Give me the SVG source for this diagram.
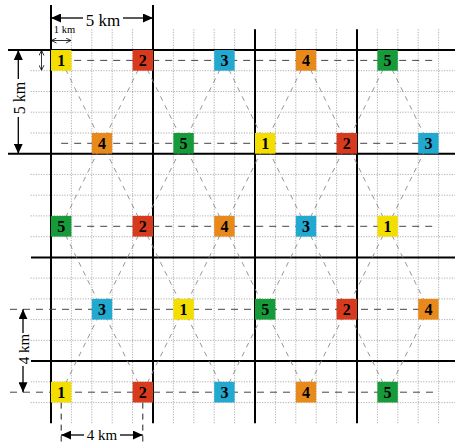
<svg xmlns="http://www.w3.org/2000/svg" width="455" height="445" viewBox="0 0 455 445">
<style>
.bg{fill:#ffffff}
.dot{stroke:#9a9a9a;stroke-width:0.8;stroke-dasharray:1.2,1.4;fill:none}
.thick{stroke:#000;stroke-width:2;fill:none}
.row{stroke:#444;stroke-width:1;stroke-dasharray:7,6;fill:none}
.diag{stroke:#8a8a8a;stroke-width:0.9;stroke-dasharray:5,5;fill:none}
.ext{stroke:#222;stroke-width:1;stroke-dasharray:6,5;fill:none}
.dim{stroke:#000;stroke-width:1.3;fill:none}
.dimsm{stroke:#000;stroke-width:0.8;fill:none}
.n rect{stroke:none}
.n text{font-family:"Liberation Serif","Times New Roman",serif;font-weight:bold;font-size:16px;fill:#000;text-anchor:middle}
.lbl{font-family:"Liberation Serif","Times New Roman",serif;fill:#000;text-anchor:middle}
.y{fill:#f4de00}.r{fill:#d83a1e}.c{fill:#22a9d0}.o{fill:#e8891b}.g{fill:#169a3a}
</style>
<defs>
<marker id="ah" viewBox="0 0 10 9" refX="10" refY="4.5" markerWidth="10" markerHeight="9" markerUnits="userSpaceOnUse" orient="auto">
<path d="M0,0 L10,4.5 L0,9 z" fill="#000"/>
</marker>
<marker id="sm" viewBox="0 0 6 6" refX="5.5" refY="3" markerWidth="6" markerHeight="6" markerUnits="userSpaceOnUse" orient="auto-start-reverse">
<path d="M0.5,0.5 L5.5,3 L0.5,5.5" fill="none" stroke="#000" stroke-width="0.8"/>
</marker>
</defs>
<rect class="bg" x="0" y="0" width="455" height="445"/>
<g id="grid">
<path class="dot" d="M71.4,29.3V423.3M91.8,29.3V423.3M112.2,29.3V423.3M132.6,29.3V423.3M173.4,29.3V423.3M193.8,29.3V423.3M214.2,29.3V423.3M234.6,29.3V423.3M275.4,29.3V423.3M295.8,29.3V423.3M316.2,29.3V423.3M336.6,29.3V423.3M377.4,29.3V423.3M397.8,29.3V423.3M418.2,29.3V423.3M438.6,29.3V423.3"/>
<path class="dot" d="M30.6,70.7H455M30.6,91.5H455M30.6,112.2H455M30.6,133H455M30.6,174.4H455M30.6,195.2H455M30.6,215.9H455M30.6,236.7H455M30.6,278.1H455M30.6,298.9H455M30.6,319.6H455M30.6,340.4H455M30.6,381.8H455M30.6,402.6H455"/>
<path class="thick" d="M51,5V423.3M153,5V423.3M255,29.3V423.3M357,29.3V423.3M8,50H455M8,153.7H455M31,257.4H455M31,361.1H455"/>
</g>
<g id="connectors">
<g class="row">
<path d="M61.2,60.4H438"/>
<path d="M61.2,143.3H438"/>
<path d="M61.2,226.3H438"/>
<path d="M10,309.3H438"/>
<path d="M10,392.2H438"/>
<path class="ext" d="M61.2,402.6V445M142.8,402.6V445"/>
</g>
<g class="diag">
<line x1="61.2" y1="60.4" x2="102" y2="143.3"/><line x1="142.8" y1="60.4" x2="102" y2="143.3"/><line x1="142.8" y1="60.4" x2="183.6" y2="143.3"/><line x1="224.4" y1="60.4" x2="183.6" y2="143.3"/><line x1="224.4" y1="60.4" x2="265.2" y2="143.3"/><line x1="306" y1="60.4" x2="265.2" y2="143.3"/><line x1="306" y1="60.4" x2="346.8" y2="143.3"/><line x1="387.6" y1="60.4" x2="346.8" y2="143.3"/><line x1="387.6" y1="60.4" x2="428.4" y2="143.3"/>
<line x1="61.2" y1="226.3" x2="102" y2="143.3"/><line x1="142.8" y1="226.3" x2="102" y2="143.3"/><line x1="142.8" y1="226.3" x2="183.6" y2="143.3"/><line x1="224.4" y1="226.3" x2="183.6" y2="143.3"/><line x1="224.4" y1="226.3" x2="265.2" y2="143.3"/><line x1="306" y1="226.3" x2="265.2" y2="143.3"/><line x1="306" y1="226.3" x2="346.8" y2="143.3"/><line x1="387.6" y1="226.3" x2="346.8" y2="143.3"/><line x1="387.6" y1="226.3" x2="428.4" y2="143.3"/>
<line x1="61.2" y1="226.3" x2="102" y2="309.3"/><line x1="142.8" y1="226.3" x2="102" y2="309.3"/><line x1="142.8" y1="226.3" x2="183.6" y2="309.3"/><line x1="224.4" y1="226.3" x2="183.6" y2="309.3"/><line x1="224.4" y1="226.3" x2="265.2" y2="309.3"/><line x1="306" y1="226.3" x2="265.2" y2="309.3"/><line x1="306" y1="226.3" x2="346.8" y2="309.3"/><line x1="387.6" y1="226.3" x2="346.8" y2="309.3"/><line x1="387.6" y1="226.3" x2="428.4" y2="309.3"/>
<line x1="61.2" y1="392.2" x2="102" y2="309.3"/><line x1="142.8" y1="392.2" x2="102" y2="309.3"/><line x1="142.8" y1="392.2" x2="183.6" y2="309.3"/><line x1="224.4" y1="392.2" x2="183.6" y2="309.3"/><line x1="224.4" y1="392.2" x2="265.2" y2="309.3"/><line x1="306" y1="392.2" x2="265.2" y2="309.3"/><line x1="306" y1="392.2" x2="346.8" y2="309.3"/><line x1="387.6" y1="392.2" x2="346.8" y2="309.3"/><line x1="387.6" y1="392.2" x2="428.4" y2="309.3"/>
</g>
</g>
<g id="nodes">
<g id="a1" class="n"><rect class="y" x="51" y="50" width="20.4" height="20.7"/><text x="61.2" y="66">1</text></g>
<g id="a2" class="n"><rect class="r" x="132.6" y="50" width="20.4" height="20.7"/><text x="142.8" y="66">2</text></g>
<g id="a3" class="n"><rect class="c" x="214.2" y="50" width="20.4" height="20.7"/><text x="224.4" y="66">3</text></g>
<g id="a4" class="n"><rect class="o" x="295.8" y="50" width="20.4" height="20.7"/><text x="306" y="66">4</text></g>
<g id="a5" class="n"><rect class="g" x="377.4" y="50" width="20.4" height="20.7"/><text x="387.6" y="66">5</text></g>

<g id="b4" class="n"><rect class="o" x="91.8" y="133" width="20.4" height="20.7"/><text x="102" y="149">4</text></g>
<g id="b5" class="n"><rect class="g" x="173.4" y="133" width="20.4" height="20.7"/><text x="183.6" y="149">5</text></g>
<g id="b1" class="n"><rect class="y" x="255" y="133" width="20.4" height="20.7"/><text x="265.2" y="149">1</text></g>
<g id="b2" class="n"><rect class="r" x="336.6" y="133" width="20.4" height="20.7"/><text x="346.8" y="149">2</text></g>
<g id="b3" class="n"><rect class="c" x="418.2" y="133" width="20.4" height="20.7"/><text x="428.4" y="149">3</text></g>

<g id="c5" class="n"><rect class="g" x="51" y="215.9" width="20.4" height="20.7"/><text x="61.2" y="232">5</text></g>
<g id="c2" class="n"><rect class="r" x="132.6" y="215.9" width="20.4" height="20.7"/><text x="142.8" y="232">2</text></g>
<g id="c4" class="n"><rect class="o" x="214.2" y="215.9" width="20.4" height="20.7"/><text x="224.4" y="232">4</text></g>
<g id="c3" class="n"><rect class="c" x="295.8" y="215.9" width="20.4" height="20.7"/><text x="306" y="232">3</text></g>
<g id="c1" class="n"><rect class="y" x="377.4" y="215.9" width="20.4" height="20.7"/><text x="387.6" y="232">1</text></g>

<g id="d3" class="n"><rect class="c" x="91.8" y="298.9" width="20.4" height="20.7"/><text x="102" y="315">3</text></g>
<g id="d1" class="n"><rect class="y" x="173.4" y="298.9" width="20.4" height="20.7"/><text x="183.6" y="315">1</text></g>
<g id="d5" class="n"><rect class="g" x="255" y="298.9" width="20.4" height="20.7"/><text x="265.2" y="315">5</text></g>
<g id="d2" class="n"><rect class="r" x="336.6" y="298.9" width="20.4" height="20.7"/><text x="346.8" y="315">2</text></g>
<g id="d4" class="n"><rect class="o" x="418.2" y="298.9" width="20.4" height="20.7"/><text x="428.4" y="315">4</text></g>

<g id="e1" class="n"><rect class="y" x="51" y="381.8" width="20.4" height="20.7"/><text x="61.2" y="398">1</text></g>
<g id="e2" class="n"><rect class="r" x="132.6" y="381.8" width="20.4" height="20.7"/><text x="142.8" y="398">2</text></g>
<g id="e3" class="n"><rect class="c" x="214.2" y="381.8" width="20.4" height="20.7"/><text x="224.4" y="398">3</text></g>
<g id="e4" class="n"><rect class="o" x="295.8" y="381.8" width="20.4" height="20.7"/><text x="306" y="398">4</text></g>
<g id="e5" class="n"><rect class="g" x="377.4" y="381.8" width="20.4" height="20.7"/><text x="387.6" y="398">5</text></g>
</g>
<g id="dimensions">
<line class="dim" x1="83" y1="18" x2="51" y2="18" marker-end="url(#ah)"/>
<line class="dim" x1="123" y1="18" x2="153" y2="18" marker-end="url(#ah)"/>
<text class="lbl" x="103" y="25.5" font-size="17">5 km</text>
<text class="lbl" x="64.5" y="33" font-size="10.5">1 km</text>
<line class="dimsm" x1="51.5" y1="40.5" x2="70.9" y2="40.5" marker-start="url(#sm)" marker-end="url(#sm)"/>
<line class="dimsm" x1="41.5" y1="50.5" x2="41.5" y2="70.2" marker-start="url(#sm)" marker-end="url(#sm)"/>
<line class="dim" x1="18.3" y1="79" x2="18.3" y2="50" marker-end="url(#ah)"/>
<line class="dim" x1="18.3" y1="117" x2="18.3" y2="153.7" marker-end="url(#ah)"/>
<text class="lbl" x="0" y="0" font-size="16" transform="translate(24.5,98) rotate(-90)">5 km</text>
<line class="dim" x1="23" y1="333" x2="23" y2="309.3" marker-end="url(#ah)"/>
<line class="dim" x1="23" y1="366" x2="23" y2="392.2" marker-end="url(#ah)"/>
<text class="lbl" x="0" y="0" font-size="15" transform="translate(28.5,349) rotate(-90)">4 km</text>
<line class="dim" x1="84" y1="435" x2="61.2" y2="435" marker-end="url(#ah)"/>
<line class="dim" x1="120" y1="435" x2="142.8" y2="435" marker-end="url(#ah)"/>
<text class="lbl" x="102" y="440" font-size="15">4 km</text>
</g>
</svg>
